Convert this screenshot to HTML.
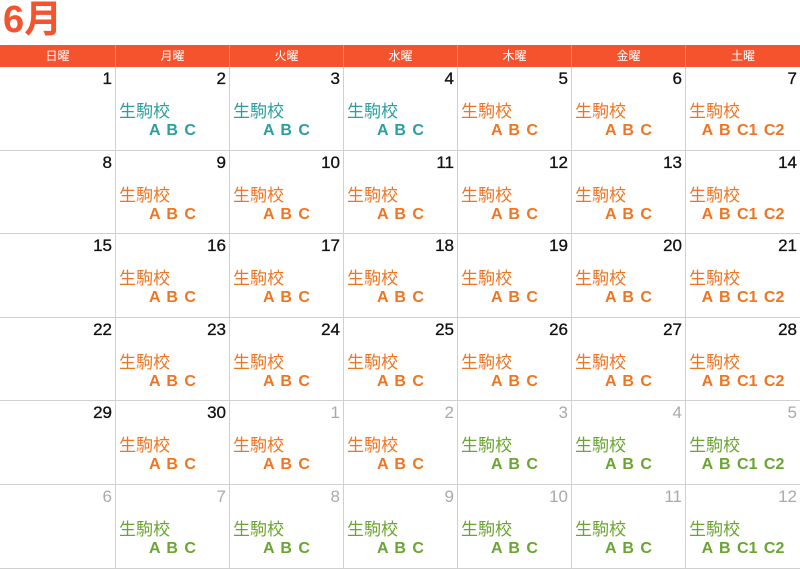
<!DOCTYPE html>
<html><head><meta charset="utf-8">
<style>
body{margin:0;width:800px;height:569px;background:#fff;font-family:"Liberation Sans","Noto Sans CJK JP",sans-serif;position:relative;overflow:hidden}
#title{position:absolute;left:3px;top:-2px;font-size:38px;font-weight:bold;color:#f5532d;line-height:44px}
#hdr{position:absolute;left:0;top:45px;width:800px;height:22px;background:#f5532d}
.h{position:absolute;top:0;height:22px;line-height:22px;text-align:center;color:#fff;font-size:12px;border-left:1px solid #f88a6c;box-sizing:border-box}
.c{position:absolute;box-sizing:border-box;border-left:1px solid #d0d0d0;border-bottom:1px solid #d0d0d0}
.n{position:absolute;right:3px;top:2px;font-size:17px;color:#111;-webkit-text-stroke:0.3px #111}
.n.o{color:#aaa;-webkit-text-stroke:0}
.s{position:absolute;left:3px;top:30px;font-size:17px;font-weight:normal}
.k{position:absolute;left:0;right:0;top:55px;text-align:center;font-size:16px;font-weight:bold;word-spacing:2px}
</style></head><body>
<div id="title">6月</div>
<div id="hdr"></div>
<div id="grid"></div>
<script>
const days=["日曜","月曜","火曜","水曜","木曜","金曜","土曜"];
const xs=[0,115,229,343,457,571,685,800];
const top0=67,rh=83.6;
const T="#2a9f9f",O="#f07522",G="#6aa532";
const hdr=document.getElementById('hdr');
days.forEach((d,i)=>{const e=document.createElement('div');e.className='h';


e.style.left=xs[i]+'px';e.style.width=(xs[i+1]-xs[i])+'px';if(i==0)e.style.borderLeft='none';e.textContent=d;hdr.appendChild(e);});
const g=document.getElementById('grid');
for(let r=0;r<6;r++)for(let c=0;c<7;c++){
 const idx=r*7+c;let day=idx+1,other=false;if(day>30){day-=30;other=true;}
 const e=document.createElement('div');e.className='c';
 
 
 e.style.left=xs[c]+'px';e.style.width=(xs[c+1]-xs[c])+'px';
 e.style.top=(top0+r*rh)+'px';e.style.height=rh+'px';
 if(c==0)e.style.borderLeft='none';
 let h='<div class="n'+(other?' o':'')+'">'+day+'</div>';
 if(c>0){
  let col=O;
  if(!other&&idx<=3)col=T;
  if(other&&day>=3)col=G;
  const k=c==6?'A B C1 C2':'A B C';
  h+='<div class="s" style="color:'+col+'">生駒校</div>';
  h+='<div class="k" style="color:'+col+'">'+k+'</div>';
 }
 e.innerHTML=h;g.appendChild(e);
}
</script>
</body></html>
